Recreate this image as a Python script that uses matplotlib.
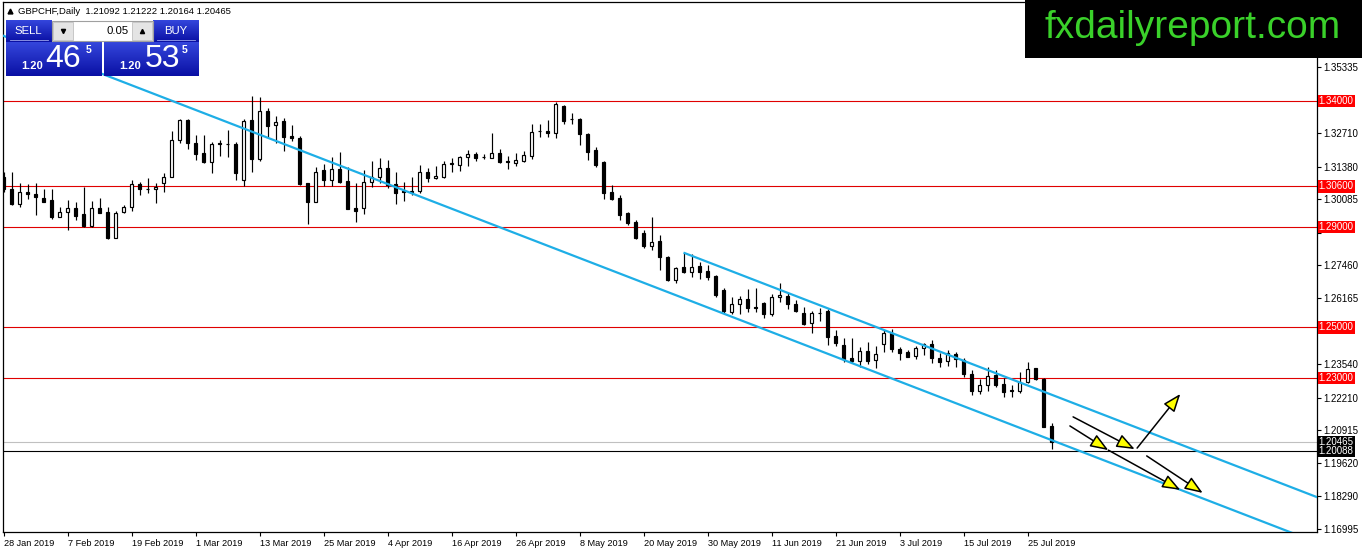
import numpy as np
import matplotlib
matplotlib.use('Agg')
import matplotlib.pyplot as plt
from matplotlib.patches import Rectangle
from matplotlib.colors import LinearSegmentedColormap

plt.rcParams['font.family'] = ['Liberation Sans', 'DejaVu Sans']

### data (GBPCHF daily)

opens = [1.3099, 1.3050, 1.2989, 1.3039, 1.3030, 1.3013, 1.3006, 1.2940, 1.2958, 1.2973,
         1.2949, 1.2904, 1.2973, 1.2958, 1.2856, 1.2958, 1.2977, 1.3070, 1.3050, 1.3050,
         1.3072, 1.3099, 1.3244, 1.3324, 1.3231, 1.3194, 1.3157, 1.3231, 1.3230, 1.3227,
         1.3085, 1.3324, 1.3169, 1.3359, 1.3304, 1.3320, 1.3261, 1.3253, 1.3072, 1.2999,
         1.3125, 1.3085, 1.3129, 1.3081, 1.2973, 1.2973, 1.3079, 1.3099, 1.3132, 1.3070,
         1.3043, 1.3043, 1.3043, 1.3116, 1.3092, 1.3099, 1.3150, 1.3145, 1.3176, 1.3189,
         1.3177, 1.3174, 1.3194, 1.3161, 1.3154, 1.3162, 1.3182, 1.3279, 1.3280, 1.3273,
         1.3380, 1.3328, 1.3328, 1.3267, 1.3205, 1.3158, 1.3039, 1.3015, 1.2954, 1.2920,
         1.2876, 1.2825, 1.2843, 1.2779, 1.2688, 1.2739, 1.2721, 1.2744, 1.2724, 1.2704,
         1.2649, 1.2563, 1.2592, 1.2613, 1.2581, 1.2596, 1.2552, 1.2620, 1.2625, 1.2593,
         1.2556, 1.2517, 1.2559, 1.2567, 1.2466, 1.2430, 1.2378, 1.2368, 1.2407, 1.2371,
         1.2434, 1.2477, 1.2414, 1.2404, 1.2387, 1.2417, 1.2434, 1.2378, 1.2367, 1.2393,
         1.2371, 1.2314, 1.2249, 1.2272, 1.2311, 1.2276, 1.2252, 1.2248, 1.2285, 1.2338,
         1.2295, 1.21092]
highs = [1.3118, 1.3116, 1.3075, 1.3070, 1.3075, 1.3050, 1.3050, 1.2977, 1.3006, 1.2997,
         1.3059, 1.3002, 1.3013, 1.2979, 1.2962, 1.2986, 1.3085, 1.3079, 1.3095, 1.3072,
         1.3112, 1.3280, 1.3328, 1.3326, 1.3264, 1.3264, 1.3237, 1.3244, 1.3284, 1.3237,
         1.3326, 1.3420, 1.3414, 1.3372, 1.3339, 1.3330, 1.3304, 1.3260, 1.3074, 1.3138,
         1.3148, 1.3176, 1.3198, 1.3138, 1.3072, 1.3125, 1.3161, 1.3172, 1.3165, 1.3118,
         1.3076, 1.3099, 1.3145, 1.3134, 1.3142, 1.3161, 1.3172, 1.3182, 1.3205, 1.3198,
         1.3187, 1.3273, 1.3207, 1.3181, 1.3191, 1.3201, 1.3307, 1.3307, 1.3324, 1.3396,
         1.3383, 1.3350, 1.3330, 1.3271, 1.3218, 1.3160, 1.3066, 1.3026, 1.2960, 1.2927,
         1.2887, 1.2937, 1.2867, 1.2784, 1.2741, 1.2797, 1.2790, 1.2761, 1.2748, 1.2708,
         1.2655, 1.2622, 1.2625, 1.2651, 1.2655, 1.2602, 1.2633, 1.2675, 1.2638, 1.2609,
         1.2582, 1.2565, 1.2576, 1.2572, 1.2490, 1.2457, 1.2459, 1.2424, 1.2443, 1.2426,
         1.2490, 1.2493, 1.2424, 1.2410, 1.2426, 1.2439, 1.2450, 1.2397, 1.2410, 1.2404,
         1.2380, 1.2331, 1.2294, 1.2342, 1.2331, 1.2298, 1.2272, 1.2324, 1.2364, 1.2340,
         1.2298, 1.21222]
lows = [1.3039, 1.2987, 1.2979, 1.3009, 1.2946, 1.2997, 1.2929, 1.2937, 1.2887, 1.2927,
        1.2900, 1.2898, 1.2953, 1.2850, 1.2854, 1.2953, 1.2964, 1.3026, 1.3035, 1.2995,
        1.3039, 1.3097, 1.3231, 1.3207, 1.3165, 1.3154, 1.3112, 1.3182, 1.3176, 1.3085,
        1.3063, 1.3116, 1.3160, 1.3257, 1.3231, 1.3202, 1.3241, 1.3066, 1.2911, 1.2997,
        1.3063, 1.3063, 1.3075, 1.2969, 1.2920, 1.2949, 1.3059, 1.3072, 1.3055, 1.2989,
        1.3003, 1.3026, 1.3033, 1.3076, 1.3088, 1.3092, 1.3118, 1.3122, 1.3141, 1.3162,
        1.3168, 1.3172, 1.3154, 1.3129, 1.3142, 1.3158, 1.3169, 1.3257, 1.3257, 1.3251,
        1.3308, 1.3307, 1.3224, 1.3165, 1.3138, 1.3010, 1.3006, 1.2927, 1.2907, 1.2850,
        1.2817, 1.2808, 1.2728, 1.2686, 1.2675, 1.2717, 1.2701, 1.2691, 1.2688, 1.2622,
        1.2556, 1.2552, 1.2552, 1.2563, 1.2563, 1.2539, 1.2545, 1.2602, 1.2572, 1.2563,
        1.2510, 1.2479, 1.2527, 1.2430, 1.2426, 1.2364, 1.2358, 1.2342, 1.2355, 1.2338,
        1.2404, 1.2404, 1.2371, 1.2382, 1.2374, 1.2391, 1.2358, 1.2344, 1.2347, 1.2344,
        1.2305, 1.2232, 1.2235, 1.2248, 1.2265, 1.2225, 1.2225, 1.2241, 1.2278, 1.2291,
        1.2104, 1.20164]
closes = [1.3048, 1.2989, 1.3037, 1.3029, 1.3017, 1.2999, 1.2940, 1.2958, 1.2973, 1.2942,
          1.2904, 1.2973, 1.2956, 1.2856, 1.2953, 1.2977, 1.3068, 1.3048, 1.3048, 1.3056,
          1.3099, 1.3244, 1.3324, 1.3231, 1.3189, 1.3157, 1.3227, 1.3228, 1.3227, 1.3114,
          1.3321, 1.3169, 1.3359, 1.3300, 1.3314, 1.3257, 1.3251, 1.3068, 1.2999, 1.3118,
          1.3085, 1.3128, 1.3076, 1.2970, 1.2964, 1.3079, 1.3099, 1.3132, 1.3066, 1.3035,
          1.3037, 1.3039, 1.3116, 1.3092, 1.3101, 1.3148, 1.3153, 1.3178, 1.3189, 1.3174,
          1.3175, 1.3191, 1.3158, 1.3157, 1.3165, 1.3185, 1.3277, 1.3278, 1.3273, 1.3386,
          1.3321, 1.3326, 1.3267, 1.3198, 1.3145, 1.3035, 1.3010, 1.2946, 1.2916, 1.2854,
          1.2825, 1.2840, 1.2779, 1.2688, 1.2735, 1.2721, 1.2741, 1.2721, 1.2701, 1.2629,
          1.2565, 1.2592, 1.2612, 1.2576, 1.2579, 1.2552, 1.2622, 1.2629, 1.2593, 1.2567,
          1.2514, 1.2559, 1.2557, 1.2463, 1.2437, 1.2374, 1.2368, 1.2407, 1.2367, 1.2393,
          1.2477, 1.2413, 1.2397, 1.2384, 1.2417, 1.2433, 1.2378, 1.2364, 1.2397, 1.2374,
          1.2314, 1.2248, 1.2272, 1.2308, 1.2272, 1.2245, 1.2248, 1.2285, 1.2334, 1.2294,
          1.2106, 1.20465]

date_labels = ['28 Jan 2019', '7 Feb 2019', '19 Feb 2019', '1 Mar 2019', '13 Mar 2019',
               '25 Mar 2019', '4 Apr 2019', '16 Apr 2019', '26 Apr 2019', '8 May 2019',
               '20 May 2019', '30 May 2019', '11 Jun 2019', '21 Jun 2019', '3 Jul 2019',
               '15 Jul 2019', '25 Jul 2019']
bars_per_label = 8

price_ticks = [1.35335, 1.32710, 1.31380, 1.30085, 1.28755, 1.27460, 1.26165,
               1.24835, 1.23540, 1.22210, 1.20915, 1.19620, 1.18290, 1.16995]
# these two sit under the red level labels and can't be read
hidden_ticks = [1.28755, 1.24835]

red_levels = [1.34000, 1.30600, 1.29000, 1.25000, 1.23000]
bid_level = 1.20465
black_level = 1.20088

# channel lines: (bar index, price) pairs
lower_channel = [(-5, 1.3719), (170, 1.1575)]
upper_channel = [(85, 1.2797), (170, 1.1755)]

# drawn arrows: start -> end, (bar index, price)
arrows = [((133.7, 1.2145), (141.4, 1.2017)),
          ((141.7, 1.2021), (147.1, 1.2236)),
          ((133.3, 1.2109), (138.1, 1.2013)),
          ((138.1, 1.2013), (147.1, 1.1855)),
          ((142.9, 1.1990), (149.9, 1.1843))]

title = 'GBPCHF,Daily  1.21092 1.21222 1.20164 1.20465'
lot = '0.05'
sell_quote = ('1.20', '46', '5')
buy_quote = ('1.20', '53', '5')
logo = 'fxdailyreport.com'

### figure

W, H = 1362, 553
fig = plt.figure(figsize=(W / 100, H / 100), dpi=100)
ax = fig.add_axes([2.5 / W, 1 - 532.3 / H, 1314.2 / W, 530.3 / H])
ax.set_xlim(-0.125, 164.15)
ax.set_ylim(1.16867, 1.37921)

o = np.array(opens)
h = np.array(highs)
l = np.array(lows)
c = np.array(closes)
x = np.arange(len(o))
up = c >= o

ax.vlines(x, l, h, color='black', lw=0.85, zorder=3)
ax.bar(x[up], (c - o)[up], bottom=o[up], width=0.42, color='white',
       edgecolor='black', lw=0.85, zorder=4)
ax.bar(x[~up], (o - c)[~up], bottom=c[~up], width=0.42, color='black',
       edgecolor='black', lw=0.85, zorder=4)

for lv in red_levels:
    ax.axhline(lv, color='#e00000', lw=0.8, zorder=2)
    ax.text(1.0015, lv, f'{lv:.5f}', transform=ax.get_yaxis_transform(),
            color='white', fontsize=7, va='center', ha='left', clip_on=False,
            bbox=dict(boxstyle='square,pad=0.12', fc='#ff0000', ec='none'), zorder=6)

ax.axhline(bid_level, color='#c0c0c0', lw=0.8, zorder=2)
ax.axhline(black_level, color='black', lw=0.8, zorder=2)
for lv in (bid_level, black_level):
    ax.text(1.0015, lv, f'{lv:.5f}', transform=ax.get_yaxis_transform(),
            color='white', fontsize=7, va='center', ha='left', clip_on=False,
            bbox=dict(boxstyle='square,pad=0.1', fc='black', ec='none'), zorder=6)

for line in (lower_channel, upper_channel):
    xs, ys = zip(*line)
    ax.plot(xs, ys, color='#1eaee6', lw=1.6, zorder=5, solid_capstyle='butt')

for start, end in arrows:
    ax.annotate('', xy=end, xytext=start, zorder=7,
                arrowprops=dict(arrowstyle='-|>,head_length=1.1,head_width=0.42',
                                fc='#ffff00', ec='black', lw=1.1,
                                shrinkA=0, shrinkB=0))

# axes look (MT4 style)
ax.yaxis.tick_right()
ax.set_yticks(price_ticks)
ax.set_yticklabels(['' if p in hidden_ticks else f'{p:.5f}' for p in price_ticks])
ax.tick_params(axis='y', direction='out', length=3, width=0.8, pad=2, labelsize=7)
ax.set_xticks(np.arange(len(date_labels)) * bars_per_label)
ax.set_xticklabels(date_labels)
ax.tick_params(axis='x', direction='out', length=3, width=0.8, pad=1.5, labelsize=6.6)
for t in ax.get_xticklabels():
    t.set_ha('left')
for s in ax.spines.values():
    s.set_color('black')
    s.set_linewidth(0.9)

### overlay: trade panel, title, logo (pixel coords)

ov = fig.add_axes([0, 0, 1, 1], zorder=10)
ov.set_xlim(0, W)
ov.set_ylim(H, 0)
ov.axis('off')

blue = LinearSegmentedColormap.from_list('panel', ['#3446dc', '#0a10a4'])
grad = np.linspace(0, 1, 64).reshape(-1, 1)


def blue_box(x0, y0, x1, y1):
    ov.imshow(grad, extent=(x0, x1, y1, y0), cmap=blue, aspect='auto',
              interpolation='bilinear', zorder=2)


blue_box(6, 20.5, 51.7, 41.7)
blue_box(153.3, 20.5, 199, 41.7)
blue_box(6, 41.7, 101.7, 75.7)
blue_box(104.3, 41.7, 199, 75.7)
ov.plot([10, 48], [40, 40], color='#9aa2ea', lw=0.6, zorder=3)
ov.plot([157, 195], [40, 40], color='#9aa2ea', lw=0.6, zorder=3)

ov.add_patch(Rectangle((51.7, 20.5), 101.6, 20.5, fc='white', ec='#a0a0a0', lw=0.8, zorder=2))
ov.add_patch(Rectangle((53.3, 22), 20, 17.5, fc='#e4e4e4', ec='#c0c0c0', lw=0.6, zorder=3))
ov.add_patch(Rectangle((131.7, 22), 20, 17.5, fc='#e4e4e4', ec='#c0c0c0', lw=0.6, zorder=3))
ov.plot([63.3], [30.5], marker='v', ms=3, color='black', zorder=4)
ov.plot([141.7], [30.5], marker='^', ms=3, color='black', zorder=4)
ov.text(128.5, 31, lot, ha='right', va='center', fontsize=8.2, color='black', zorder=4)

ov.text(28.5, 31, 'SELL', ha='center', va='center', fontsize=8.2, color='white', zorder=4)
ov.text(175.5, 31, 'BUY', ha='center', va='center', fontsize=8.2, color='white', zorder=4)

for (small, big, pip), (xs, xb, xp) in ((sell_quote, (32, 63.5, 88.5)),
                                       (buy_quote, (130, 162.5, 184.5))):
    ov.text(xs, 65.8, small, ha='center', va='center', fontsize=8, weight='bold',
            color='white', zorder=4)
    ov.text(xb, 58.8, big, ha='center', va='center', fontsize=23, color='white', zorder=4)
    ov.text(xp, 50, pip, ha='center', va='center', fontsize=7.5, weight='bold',
            color='white', zorder=4)

ov.plot([9.5], [11], marker='^', ms=3.5, color='black', zorder=4)
ov.text(18, 11, title, ha='left', va='center', fontsize=6.8, color='black', zorder=4)

ov.add_patch(Rectangle((1025, 0), W - 1025, 58.3, fc='black', ec='none', zorder=2))
ov.text(1192.5, 37.5, logo, ha='center', va='baseline', fontsize=28,
        color='#3ad12a', zorder=3)

fig.savefig('out.png', dpi=100)
